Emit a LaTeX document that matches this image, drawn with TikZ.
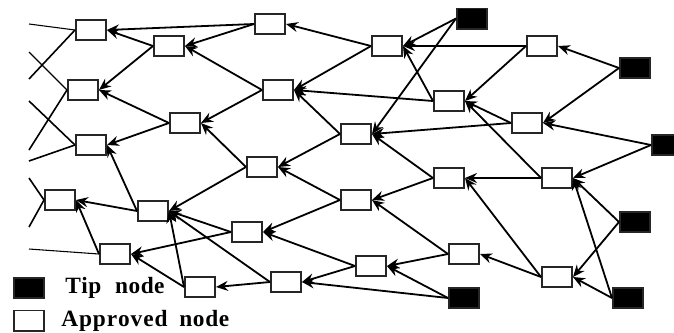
\documentclass[tikz,border=0pt]{standalone}
\usepackage{fontspec}
\setmainfont{Liberation Serif}
\usetikzlibrary{arrows.meta}
\tikzset{
 appr/.style={draw=black!85, line width=1.4pt, fill=white, minimum width=22.6pt, minimum height=15.1pt, inner sep=0pt},
 tipn/.style={appr, fill=black},
 edge/.style={line width=1.35pt, -{Stealth[length=9pt,width=7.5pt,inset=3pt]}},
 dangle/.style={line width=1.2pt},
 legtext/.style={anchor=base west, inner sep=0pt, font=\bfseries\fontsize{17.5}{20}\selectfont}
}
\begin{document}
\begin{tikzpicture}[x=0.75pt,y=-0.75pt]
\useasboundingbox (0,0) rectangle (674,332);
% approved nodes
\node[appr] (A1) at (91,30) {};
\node[appr] (A2) at (83,90) {};
\node[appr] (A3) at (91,145) {};
\node[appr] (A4) at (60,200) {};
\node[appr] (A5) at (115,254) {};
\node[appr] (B1) at (169,46) {};
\node[appr] (B2) at (185,123) {};
\node[appr] (B3) at (153,211) {};
\node[appr] (B4) at (200,287) {};
\node[appr] (C1) at (270,24) {};
\node[appr] (C2) at (278,90) {};
\node[appr] (C3) at (262,167) {};
\node[appr] (C4) at (247,232) {};
\node[appr] (C5) at (286,282) {};
\node[appr] (D1) at (387,46) {};
\node[appr] (D2) at (356,134) {};
\node[appr] (D3) at (356,200) {};
\node[appr] (D4) at (371,266) {};
\node[appr] (E2) at (449,101) {};
\node[appr] (E3) at (449,178) {};
\node[appr] (E4) at (464,254) {};
\node[appr] (F1) at (542,46) {};
\node[appr] (F2) at (527,123) {};
\node[appr] (F3) at (557,178) {};
\node[appr] (F4) at (557,277) {};
% tip nodes
\node[tipn] (T1) at (472,18.5) {};
\node[tipn] (T2) at (635,68) {};
\node[tipn] (T3) at (667,145) {};
\node[tipn] (T4) at (635,222) {};
\node[tipn] (T5) at (464,298) {};
\node[tipn] (T6) at (628,298) {};
% legend
\node[tipn] (LT) at (29,288) {};
\node[appr] (LA) at (29,320.5) {};
\node[legtext] (LTt) at (65,293) {T\hspace{0.02em}i\hspace{0.02em}p\hspace{0.6em}n\hspace{0.02em}o\hspace{0.02em}d\hspace{0.02em}e};
\node[legtext] (LAt) at (61,326) {A\hspace{0.04em}p\hspace{0.04em}p\hspace{0.04em}r\hspace{0.04em}o\hspace{0.04em}v\hspace{0.04em}e\hspace{0.04em}d\hspace{0.5em}n\hspace{0.03em}o\hspace{0.03em}d\hspace{0.03em}e};
% dangling ends on the left
\coordinate (p1) at (29,24);
\coordinate (p2) at (29,79);
\coordinate (p3) at (29,52);
\coordinate (p4) at (29,150);
\coordinate (p5) at (29,101);
\coordinate (p6) at (29,161);
\coordinate (p7) at (29,178);
\coordinate (p8) at (29,227);
\coordinate (p9) at (29,249);
\draw[dangle, line width=0.8pt] (p1) -- (A1.west);
\draw[dangle] (p2) -- (A1.west);
\draw[dangle, line width=0.8pt] (p3) -- (A2.west);
\draw[dangle] (p4) -- (A2.west);
\draw[dangle] (p5) -- (A3.west);
\draw[dangle] (p6) -- (A3.west);
\draw[dangle] (p7) -- (A4.west);
\draw[dangle] (p8) -- (A4.west);
\draw[dangle, line width=0.8pt] (p9) -- (A5.west);
% approvals
\foreach \s/\t in {C1/A1, B1/A1, B1/A2, C1/B1, C2/B1, C2/B2, C3/B2, B2/A2, B2/A3,
  B3/A3, B3/A4, A5/A4, C3/B3, C4/B3, C5/B3, B4/B3, C4/A5, B4/A5, C5/B4,
  D1/C1, D1/C2, D2/C2, E2/C2, D2/C3, D3/C3, D3/C4, D4/C4, D4/C5, T5/C5,
  E2/D1, T1/D1, F1/D1, T1/D2, F2/D2, E3/D2, E3/D3, E4/D3, E4/D4, T5/D4,
  F1/E2, F2/E2, F3/E2, F3/E3, F4/E3, F4/E4,
  T2/F1, T2/F2, T3/F2, T3/F3, T4/F3, T4/F4, T6/F3, T6/F4}
  \draw[edge] (\s.west) -- (\t.east);
\end{tikzpicture}
\end{document}
